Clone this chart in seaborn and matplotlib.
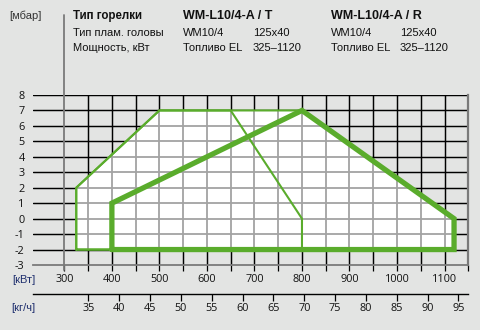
import matplotlib
matplotlib.use("Agg")
import matplotlib.pyplot as plt
import seaborn as sns
import numpy as np
import pandas as pd

# ---- data ----
t_kw = [325, 325, 500, 650, 800, 800, 325]
t_mbar = [-2, 2, 7, 7, 0, -2, -2]
r_kw = [400, 400, 800, 1120, 1120, 400]
r_mbar = [-2, 1, 7, 0, -2, -2]
env_kw = [325, 325, 500, 800, 1120, 1120, 325]
env_mbar = [-2, 2, 7, 7, 0, -2, -2]
kw_ticks = [300, 400, 500, 600, 700, 800, 900, 1000, 1100]
kgh_ticks = [35, 40, 45, 50, 55, 60, 65, 70, 75, 80, 85, 90, 95]
mbar_ticks = [8, 7, 6, 5, 4, 3, 2, 1, 0, -1, -2, -3]
header_rows = [
    ("Тип горелки", "WM-L10/4-A / T", "", "WM-L10/4-A / R", ""),
    ("Тип плам. головы", "WM10/4", "125x40", "WM10/4", "125x40"),
    ("Мощность, кВт", "Топливо EL", "325–1120", "Топливо EL", "325–1120"),
]

BG = "#e3e4e3"
GREEN = "#5aac2c"

sns.set_theme(style="white", rc={"figure.facecolor": BG, "axes.facecolor": BG})
plt.rcParams["font.family"] = ["Liberation Sans", "DejaVu Sans"]

W, H = 481, 330
fig = plt.figure(figsize=(W / 100, H / 100), dpi=100)
ax = fig.add_axes([33 / W, 1 - 265 / H, (468.3 - 33) / W, 170 / H])
ax.set_xlim(234, 1150)
ax.set_ylim(-3, 8)

# black grid
for y in range(-2, 9):
    ax.axhline(y, color="black", lw=1.05, zorder=1)
for x in range(350, 1150, 50):
    ax.axvline(x, color="black", lw=1.05, zorder=1)

# white envelope
env = ax.fill(env_kw, env_mbar, color="white", zorder=2, lw=0)[0]
# gray grid inside the envelope
for y in range(-2, 9):
    ln = ax.axhline(y, color="#a3a3a3", lw=1.3, zorder=3)
    ln.set_clip_path(env)
for x in range(350, 1150, 50):
    ln = ax.axvline(x, color="#a3a3a3", lw=1.3, zorder=3)
    ln.set_clip_path(env)

# green outlines
df_env = pd.DataFrame({"kW": env_kw, "mbar": env_mbar})
df_t = pd.DataFrame({"kW": t_kw, "mbar": t_mbar})
df_r = pd.DataFrame({"kW": r_kw, "mbar": r_mbar})
sns.lineplot(data=df_env, x="kW", y="mbar", sort=False, estimator=None, color=GREEN, lw=1.5, ax=ax, zorder=4)
sns.lineplot(data=df_t, x="kW", y="mbar", sort=False, estimator=None, color=GREEN, lw=1.5, ax=ax, zorder=4)
sns.lineplot(data=df_r, x="kW", y="mbar", sort=False, estimator=None, color=GREEN, lw=3.8, ax=ax, zorder=5,
             solid_joinstyle="miter")

# vertical axis line at 300 (extends into header)
ax.plot([300, 300], [-3.35, 13.2], color="#7a7a7a", lw=1.3, clip_on=False, zorder=6)

# spines
for s in ["left", "top"]:
    ax.spines[s].set_visible(False)
ax.spines["bottom"].set_color("#7a7a7a")
ax.spines["bottom"].set_linewidth(1.3)
ax.spines["right"].set_color("#7a7a7a")
ax.spines["right"].set_linewidth(1.6)

ax.set_xlabel("")
ax.set_ylabel("")
num_font = {"family": ["Open Sans", "DejaVu Sans"], "size": 7.8}
ax.set_xticks(kw_ticks)
ax.set_xticklabels([str(v) for v in kw_ticks], fontdict=num_font, color="#111111")
ax.set_xticks(list(range(350, 1151, 100)), minor=True)
ax.tick_params(axis="x", which="both", direction="out", length=4.3, width=0.9, color="black", pad=2,
               bottom=True)
ax.set_yticks(mbar_ticks)
ax.set_yticklabels([str(v) for v in mbar_ticks], fontdict=num_font, color="#111111")
ax.tick_params(axis="y", length=0, pad=6, left=True)

# secondary kg/h axis
def kw2kg(x):
    return (np.asarray(x) - 350.5) / 12.98 + 35

def kg2kw(k):
    return (np.asarray(k) - 35) * 12.98 + 350.5

sec = ax.secondary_xaxis(-29.3 / 170, functions=(kw2kg, kg2kw))
sec.set_xticks(kgh_ticks)
sec.set_xticklabels([str(v) for v in kgh_ticks], fontdict=num_font, color="#111111")
sec.tick_params(direction="out", length=5, width=0.9, color="black", pad=1.5)
sec.spines["bottom"].set_color("black")
sec.spines["bottom"].set_linewidth(1.0)

# unit labels
unit_font = ["Liberation Sans", "DejaVu Sans"]
fig.text(12 / W, 1 - 280 / H, "[кВт]", color="#1f2f6e", fontsize=8, family=unit_font, va="center")
fig.text(11 / W, 1 - 308 / H, "[кг/ч]", color="#1f2f6e", fontsize=8, family=unit_font, va="center")
fig.text(9 / W, 1 - 16 / H, "[мбар]", color="#333333", fontsize=8, family=unit_font, va="center")

# header table
col_x = [73, 183, 253, 331, 400]
row_y = [16, 33, 48]
for ri, row in enumerate(header_rows):
    for ci, txt in enumerate(row):
        if not txt:
            continue
        bold = ri == 0
        size = 8
        if bold:
            size = 8.3 if ci == 0 else 9.0
        fig.text(col_x[ci] / W, 1 - row_y[ri] / H, txt, fontsize=size,
                 fontweight="bold" if bold else "normal", color="#111111",
                 family=unit_font, va="center", ha="left")

fig.savefig("out.png", dpi=100, facecolor=BG)
